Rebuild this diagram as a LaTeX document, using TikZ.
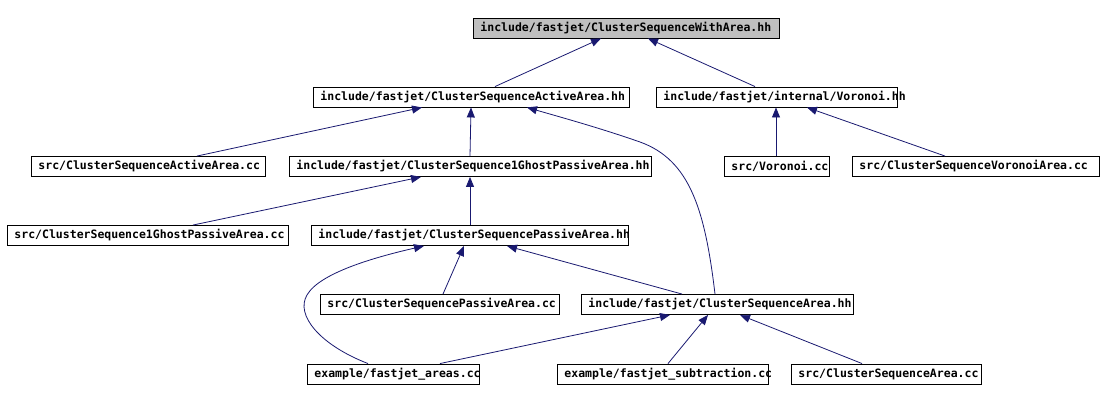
\documentclass[tikz,border=0pt]{standalone}
\usepackage{fontspec}
\newfontfamily\dxmono{DejaVu Sans Mono}[BoldFont={DejaVu Sans Mono Bold}]
\usetikzlibrary{arrows.meta}
\definecolor{edgeblue}{RGB}{25,25,112}
\definecolor{rootgrey}{RGB}{191,191,191}
\tikzset{
  file/.style={draw=black, line width=0.9pt, anchor=west, inner xsep=7pt, inner ysep=0pt,
    minimum height=20pt, align=left, font=\dxmono\bfseries\fontsize{11.5}{13}\selectfont},
  rootfile/.style={file, fill=rootgrey},
  incl/.style={draw=edgeblue, line width=0.8pt, -{Triangle[length=10pt,width=8pt]}, edgeblue}
}
\begin{document}
\begin{tikzpicture}[x=1pt,y=-1pt]
\useasboundingbox (0,0) rectangle (1102,401);
% nodes
\node[rootfile, text width=292pt] (top) at (473,28) {\mbox{include/fastjet/ClusterSequenceWithArea.hh}};
\node[file, text width=302pt] (aah) at (313,97) {\mbox{include/fastjet/ClusterSequenceActiveArea.hh}};
\node[file, text width=227pt] (vh) at (656,97) {\mbox{include/fastjet/internal/Voronoi.hh}};
\node[file, text width=220pt] (aacc) at (31,166.5) {\mbox{src/ClusterSequenceActiveArea.cc}};
\node[file, text width=348pt] (g1hh) at (289,166.5) {\mbox{include/fastjet/ClusterSequence1GhostPassiveArea.hh}};
\node[file, text width=91pt] (vcc) at (724,166.5) {\mbox{src/Voronoi.cc}};
\node[file, text width=233pt] (vacc) at (852,166.5) {\mbox{src/ClusterSequenceVoronoiArea.cc}};
\node[file, text width=267pt] (g1cc) at (7,235.5) {\mbox{src/ClusterSequence1GhostPassiveArea.cc}};
\node[file, text width=303pt] (pahh) at (311,235.5) {\mbox{include/fastjet/ClusterSequencePassiveArea.hh}};
\node[file, text width=225pt] (pacc) at (320,304.5) {\mbox{src/ClusterSequencePassiveArea.cc}};
\node[file, text width=258pt] (cah) at (581,304.5) {\mbox{include/fastjet/ClusterSequenceArea.hh}};
\node[file, text width=158pt] (fac) at (307,374) {\mbox{example/fastjet\_areas.cc}};
\node[file, text width=197pt] (fsc) at (557,374) {\mbox{example/fastjet\_subtraction.cc}};
\node[file, text width=176pt] (cacc) at (791,374) {\mbox{src/ClusterSequenceArea.cc}};
% edges (child -> included header)
\draw[incl] ([xshift=182pt]aah.north west) -- ([xshift=128pt]top.south west);
\draw[incl] ([xshift=99pt]vh.north west) -- ([xshift=175pt]top.south west);
\draw[incl] ([xshift=166pt]aacc.north west) -- ([xshift=109pt]aah.south west);
\draw[incl] ([xshift=181pt]g1hh.north west) -- ([xshift=158pt]aah.south west);
\draw[incl] ([xshift=134pt]cah.north west) .. controls (705,210) and (690,160) .. (640,142)
            .. controls (600,128) and (560,117) .. ([xshift=214pt]aah.south west);
\draw[incl] ([xshift=52pt]vcc.north west) -- ([xshift=120pt]vh.south west);
\draw[incl] ([xshift=93pt]vacc.north west) -- ([xshift=151pt]vh.south west);
\draw[incl] ([xshift=186pt]g1cc.north west) -- ([xshift=132pt]g1hh.south west);
\draw[incl] ([xshift=159pt]pahh.north west) -- ([xshift=181pt]g1hh.south west);
\draw[incl] ([xshift=61pt]fac.north west) .. controls (320,345) and (295,315) .. (307,295)
            .. controls (320,272) and (380,256) .. ([xshift=113pt]pahh.south west);
\draw[incl] ([xshift=123pt]pacc.north west) -- ([xshift=153pt]pahh.south west);
\draw[incl] ([xshift=101pt]cah.north west) -- ([xshift=196pt]pahh.south west);
\draw[incl] ([xshift=133pt]fac.north west) -- ([xshift=89pt]cah.south west);
\draw[incl] ([xshift=111pt]fsc.north west) -- ([xshift=127pt]cah.south west);
\draw[incl] ([xshift=71pt]cacc.north west) -- ([xshift=159pt]cah.south west);
\end{tikzpicture}
\end{document}
